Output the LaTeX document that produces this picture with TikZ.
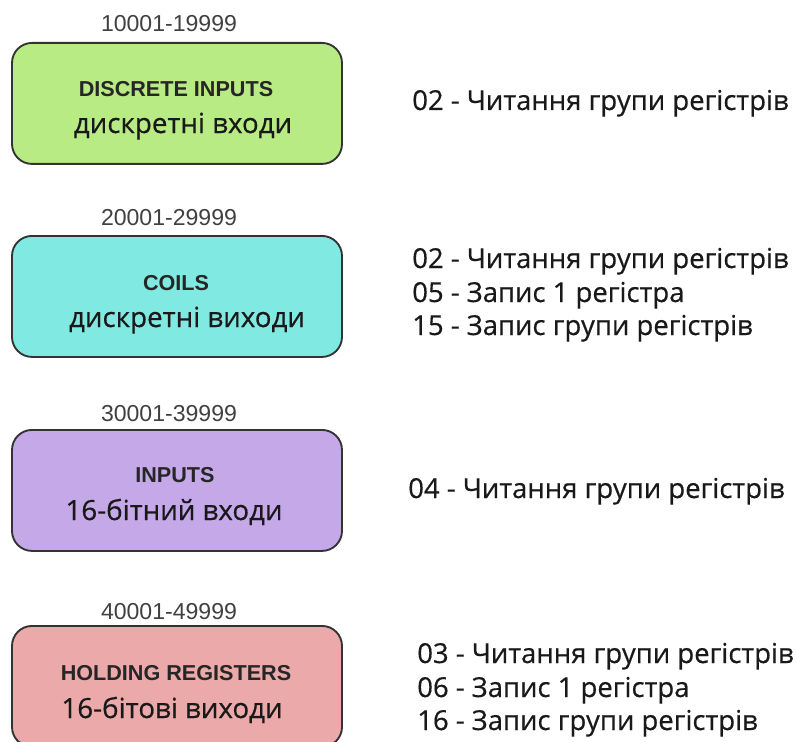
\documentclass[tikz,border=0pt]{standalone}
\usepackage{fontspec}
\setmainfont{Liberation Sans}
\newfontfamily\uafont[FakeBold=0.5]{Open Sans}
\definecolor{boxline}{HTML}{333333}
\definecolor{rangegray}{HTML}{404040}
\definecolor{fillgreen}{HTML}{B9EB85}
\definecolor{fillcyan}{HTML}{80E9E2}
\definecolor{fillviolet}{HTML}{C5A8E8}
\definecolor{fillpink}{HTML}{EBA9A9}
\tikzset{
  regbox/.style={draw=boxline, line width=1.4pt, rounded corners=15pt,
    minimum width=247.5pt, minimum height=90.75pt, anchor=north, inner sep=0pt},
  rangelbl/.style={anchor=base, inner sep=0pt, text=rangegray,
    font=\fontsize{17.3pt}{20pt}\selectfont},
  titlelbl/.style={anchor=base, inner sep=0pt, text=black!85,
    font=\fontsize{16.2pt}{19pt}\selectfont\bfseries},
  ualbl/.style={anchor=base, inner sep=0pt, text=black!90,
    font=\uafont\fontsize{20.8pt}{24pt}\selectfont},
  funclbl/.style={anchor=base west, inner sep=0pt, text=black!90,
    font=\uafont\fontsize{20.6pt}{24pt}\selectfont},
}
\begin{document}
\begin{tikzpicture}[x=0.75pt, y=-0.75pt]
\useasboundingbox (0,0) rectangle (797,742);

% register areas
\node[regbox, fill=fillgreen]  (di) at (177,42)  {};
\node[regbox, fill=fillcyan]   (co) at (177,235) {};
\node[regbox, fill=fillviolet] (ir) at (177,429) {};
\node[regbox, fill=fillpink]   (hr) at (177,625) {};

% address ranges above the boxes
\node[rangelbl] (diR) at (169,32)  {10001-19999};
\node[rangelbl] (coR) at (169,225) {20001-29999};
\node[rangelbl] (irR) at (169,421) {30001-39999};
\node[rangelbl] (hrR) at (169,619) {40001-49999};

% box captions
\node[titlelbl] (diT) at (176,97)  {DISCRETE INPUTS};
\node[ualbl]    (diU) at (183,133) {дискретні входи};
\node[titlelbl] (coT) at (176,290) {COILS};
\node[ualbl]    (coU) at (187,327) {дискретні виходи};
\node[titlelbl] (irT) at (175,482) {INPUTS};
\node[ualbl]    (irU) at (174,520) {16-бітний входи};
\node[titlelbl] (hrT) at (176,680) {HOLDING REGISTERS};
\node[ualbl]    (hrU) at (172,718) {16-бітові виходи};

% function codes
\node[funclbl] (f1a) at (412,110) {02 - Читання групи регістрів};

\node[funclbl] (f2a) at (412,268) {02 - Читання групи регістрів};
\node[funclbl] (f2b) at (412,302) {05 - Запис 1 регістра};
\node[funclbl] (f2c) at (412,335) {15 - Запис групи регістрів};

\node[funclbl] (f3a) at (408,498) {04 - Читання групи регістрів};

\node[funclbl] (f4a) at (417,663) {03 - Читання групи регістрів};
\node[funclbl] (f4b) at (417,697) {06 - Запис 1 регістра};
\node[funclbl] (f4c) at (417,730) {16 - Запис групи регістрів};
\end{tikzpicture}
\end{document}
